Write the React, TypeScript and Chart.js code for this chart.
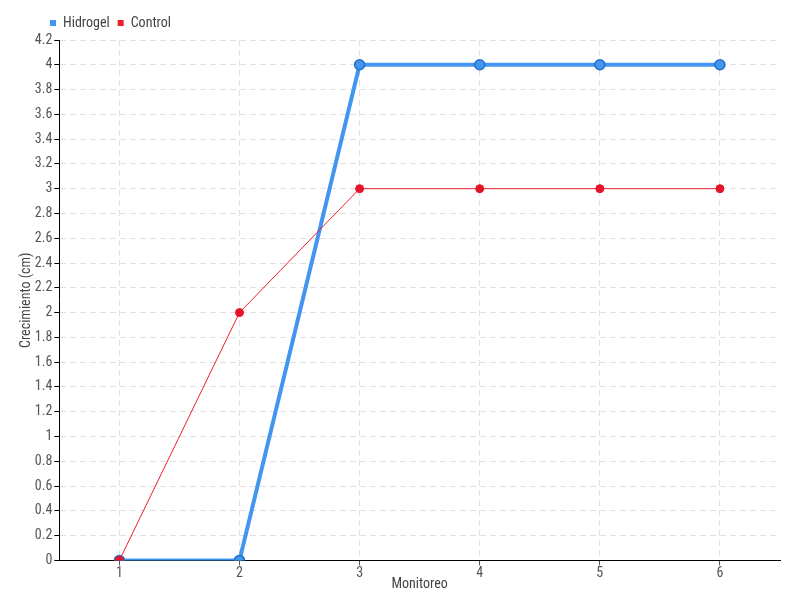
import React, { useEffect, useRef } from "react";
import { Chart, registerables } from "chart.js";

Chart.register(...registerables);

const categories = ["1", "2", "3", "4", "5", "6"];
const hidrogel = [0, 0, 4, 4, 4, 4];
const control = [0, 2, 3, 3, 3, 3];

const shiftLegend = {
  id: "shiftLegend",
  afterLayout(chart: any) {
    if (chart.legend) chart.legend.left += 24;
  },
};

export default function App() {
  const ref = useRef<HTMLCanvasElement>(null);
  useEffect(() => {
    document.body.style.margin = "0";
    const font = "'Roboto Condensed', 'Liberation Sans Narrow', Roboto, sans-serif";
    const chart = new Chart(ref.current!, {
      type: "line",
      data: {
        labels: categories,
        datasets: [
          {
            label: "Hidrogel",
            data: hidrogel,
            borderColor: "rgb(66,150,240)",
            backgroundColor: "rgb(66,150,240)",
            pointBackgroundColor: "rgb(66,150,240)",
            pointBorderColor: "rgb(40,110,200)",
            borderWidth: 4,
            pointRadius: 5,
            pointBorderWidth: 1.5,
            tension: 0,
            order: 2,
          },
          {
            label: "Control",
            data: control,
            borderColor: "rgb(238,30,45)",
            backgroundColor: "rgb(238,30,45)",
            pointBackgroundColor: "rgb(230,20,40)",
            pointBorderColor: "rgb(230,20,40)",
            borderWidth: 1,
            pointRadius: 4,
            tension: 0,
            order: 1,
          },
        ],
      },
      options: {
        animation: false,
        responsive: false,
        layout: { padding: { left: 18, right: 20, top: 8, bottom: 7 } },
        plugins: {
          legend: {
            position: "top",
            align: "start",
            labels: {
              boxWidth: 6,
              boxHeight: 6,
              padding: 8,
              color: "#444",
              font: { family: font, size: 14 },
              sort: (a: any, b: any) => a.datasetIndex - b.datasetIndex,
              generateLabels: (c: any) =>
                Chart.defaults.plugins.legend.labels
                  .generateLabels(c)
                  .map((l: any) => ({ ...l, lineWidth: 0, strokeStyle: l.fillStyle })),
            },
          },
          tooltip: { enabled: false },
        },
        scales: {
          x: {
            offset: true,
            grid: {
              color: "#e0e0e0",
              tickColor: "#555",
              tickBorderDash: [],
              tickLength: 5,
              offset: false,
            } as any,
            border: { color: "#000", width: 1, dash: [6, 4] } as any,
            ticks: { color: "#555", font: { family: font, size: 14 }, padding: 0 },
            title: {
              display: true,
              text: "Monitoreo",
              color: "#444",
              font: { family: font, size: 14 },
              padding: { top: -6, bottom: 0 },
            },
          },
          y: {
            min: 0,
            max: 4.2,
            grid: {
              color: "#e0e0e0",
              tickColor: "#000",
              tickLength: 5,
              tickBorderDash: [],
            } as any,
            border: { color: "#000", width: 1, dash: [6, 4] } as any,
            ticks: {
              stepSize: 0.2,
              color: "#555",
              font: { family: font, size: 14 },
              padding: 2,
              callback: (v: any) => String(Math.round(Number(v) * 10) / 10),
            },
            title: {
              display: true,
              text: "Crecimiento (cm)",
              color: "#444",
              font: { family: font, size: 14 },
              padding: { top: 0, bottom: -2 },
            },
          },
        },
      },
      plugins: [shiftLegend],
    });
    return () => chart.destroy();
  }, []);
  return <canvas ref={ref} width={800} height={600} style={{ display: "block" }} />;
}
